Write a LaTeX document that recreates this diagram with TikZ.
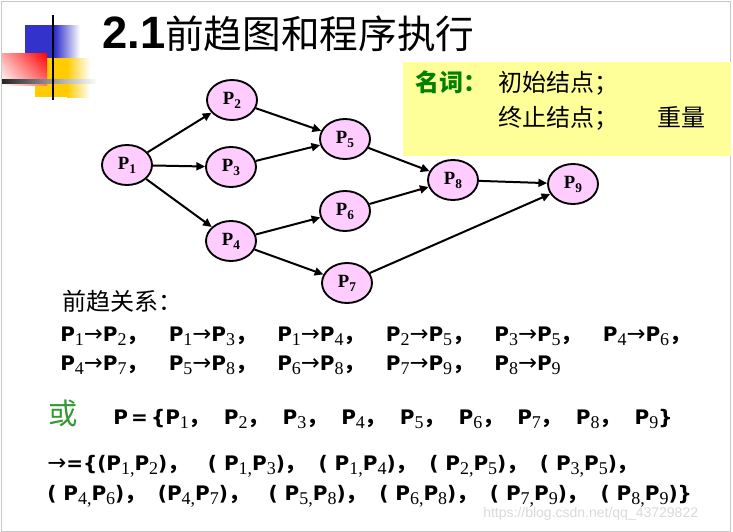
\documentclass[tikz,border=0pt]{standalone}
\usepackage{fontspec}
\setmainfont{DejaVu Sans}
\newfontfamily\cjk{Noto Sans CJK SC}
\newfontfamily\serifnum{Liberation Serif}
\newfontfamily\arialf{Liberation Sans}
\usetikzlibrary{shapes.geometric, arrows.meta, shadings}

\definecolor{nodePink}{RGB}{255,204,255}
\definecolor{boxYellow}{RGB}{255,255,153}
\definecolor{termGreen}{RGB}{0,128,0}
\definecolor{orGreen}{RGB}{51,153,51}
\definecolor{logoBlue}{RGB}{51,51,204}
\definecolor{logoYellow}{RGB}{255,204,0}
\definecolor{frameGray}{RGB}{200,200,200}

% label inside a graph node
\newcommand{\np}[1]{P\raisebox{-3pt}{\fontsize{10}{10}\selectfont#1}}
% P with subscript in the text lines
\newcommand{\pn}[1]{P\raisebox{-3pt}{\serifnum\mdseries\fontsize{13.5}{13.5}\selectfont#1}}
\newcommand{\rarr}{{\mdseries\fontsize{17}{17}\selectfont →}}
\newcommand{\zc}{{\cjk\bfseries\fontsize{16}{16}\selectfont ，}}
\newcommand{\relgrp}[2]{\makebox[81.4pt][l]{\pn{#1}\rarr\pn{#2}\zc}}
\newcommand{\setgrp}[1]{\makebox[44pt][l]{\pn{#1}\zc}}
\newcommand{\pairgrp}[3]{\makebox[83pt][l]{(#1\pn{#2,}\pn{#3})\zc}}

\tikzset{
    precNode/.style={
        ellipse, draw=black, fill=nodePink, line width=1.4pt, minimum width=37.5pt, minimum height=30pt, inner sep=0pt, font=\serifnum\bfseries\fontsize{14}{14}\selectfont
    },
    precArrow/.style={
        -{Triangle[length=6.5pt, width=6pt]}, line width=1.5pt, draw=black
    },
    textLine/.style={
        anchor=base west, inner sep=0pt, font=\bfseries\fontsize{15}{15}\selectfont
    },
    cjkText/.style={
        anchor=base west, inner sep=0pt, font=\cjk\fontsize{18}{18}\selectfont
    }
}

\begin{document}
\begin{tikzpicture}[x=0.75pt, y=-0.75pt]
    \useasboundingbox (0,0) rectangle (733,532);
    \draw[frameGray, line width=0.75pt] (1,1) rectangle (730,531);

    % ── LOGO
    \fill[logoBlue] (25,25) rectangle (55,58);
    \shade[left color=logoBlue, right color=white] (55,25) rectangle (80,58);
    \fill[logoYellow] (35,58) rectangle (67,97);
    \shade[left color=logoYellow, right color=white] (67,58) rectangle (90,97);
    \shade[upper left=red!35, upper right=red, lower left=white, lower right=red!55] (2,53) rectangle (47,85);
    \shade[left color=black!85, right color=white] (2,79) rectangle (97,83);
    \draw[black, line width=1.2pt] (53,15) -- (53,100);

    % ── TITLE
    \node[anchor=base west, inner sep=0pt] (title) at (102,48) {{\arialf\bfseries\fontsize{34}{34}\selectfont 2.1}{\cjk\fontsize{29}{29}\selectfont 前趋图和程序执行}};

    % ── TERMS BOX
    \node[fill=boxYellow, anchor=north west, minimum width=246pt, minimum height=70pt, inner sep=0pt] (termBox) at (403,62) {};
    \node[cjkText, text=termGreen, font=\cjk\bfseries\fontsize{18}{18}\selectfont] (termLabel) at (415,91) {名词：};
    \node[cjkText] (termStart) at (498,91) {初始结点；};
    \node[cjkText] (termEnd) at (498,126) {终止结点；};
    \node[cjkText] (termWeight) at (657,126) {重量};

    % ── PRECEDENCE GRAPH
    \node[precNode] (p1) at (127,165) {\np1};
    \node[precNode] (p2) at (232,100) {\np2};
    \node[precNode] (p3) at (231,167) {\np3};
    \node[precNode] (p4) at (231,241) {\np4};
    \node[precNode] (p5) at (345,139) {\np5};
    \node[precNode] (p6) at (345,211) {\np6};
    \node[precNode] (p7) at (347,283) {\np7};
    \node[precNode] (p8) at (453,180) {\np8};
    \node[precNode] (p9) at (573,184) {\np9};

    \draw[precArrow] (p1) -- (p2);
    \draw[precArrow] (p1) -- (p3);
    \draw[precArrow] (p1) -- (p4);
    \draw[precArrow] (p2) -- (p5);
    \draw[precArrow] (p3) -- (p5);
    \draw[precArrow] (p4) -- (p6);
    \draw[precArrow] (p4) -- (p7);
    \draw[precArrow] (p5) -- (p8);
    \draw[precArrow] (p6) -- (p8);
    \draw[precArrow] (p7) -- (p9);
    \draw[precArrow] (p8) -- (p9);

    % ── RELATION TEXT
    \node[cjkText] (relTitle) at (62,310) {前趋关系：};
    \node[textLine] (relA) at (60,341) {\relgrp12\relgrp13\relgrp14\relgrp25\relgrp35\relgrp46};
    \node[textLine] (relB) at (60,370) {\relgrp47\relgrp58\relgrp68\relgrp79\pn8\rarr\pn9};

    \node[anchor=base west, inner sep=0pt, text=orGreen, font=\cjk\fontsize{22}{22}\selectfont] (orWord) at (48,424) {或};
    \node[textLine] (setP) at (113,424) {\makebox[39pt][s]{P\hfil=\hfil\{}\setgrp1\setgrp2\setgrp3\setgrp4\setgrp5\setgrp6\setgrp7\setgrp8\pn9\}};
    \node[textLine] (edgeA) at (47,470) {\rarr=\{\pairgrp{}12\pairgrp{\ }13\pairgrp{\ }14\pairgrp{\ }25\pairgrp{\ }35};
    \node[textLine] (edgeB) at (47,500) {\pairgrp{\ }46\pairgrp{}47\pairgrp{\ }58\pairgrp{\ }68\pairgrp{\ }79(\ \pn{8,}\pn9)\}};

    \node[anchor=base west, inner sep=0pt, text=black!15, font=\arialf\fontsize{10.5}{10.5}\selectfont] (watermark) at (483,517) {https://blog.csdn.net/qq\_43729822};
\end{tikzpicture}
\end{document}
